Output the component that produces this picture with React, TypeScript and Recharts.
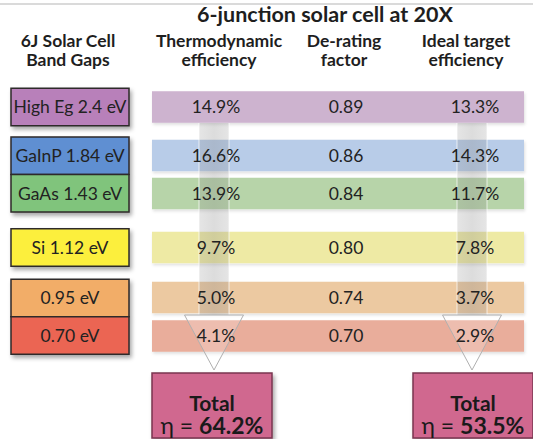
import { ScatterChart, Scatter, XAxis, YAxis, ReferenceLine } from "recharts";

const title = "6-junction solar cell at 20X";
const headers = [
  ["6J Solar Cell", "Band Gaps"],
  ["Thermodynamic", "efficiency"],
  ["De-rating", "factor"],
  ["Ideal target", "efficiency"],
];
const bandGaps = ["High Eg 2.4 eV", "GaInP 1.84 eV", "GaAs 1.43 eV", "Si 1.12 eV", "0.95 eV", "0.70 eV"];
const thermoEff = [14.9, 16.6, 13.9, 9.7, 5.0, 4.1];
const derating = [0.89, 0.86, 0.84, 0.8, 0.74, 0.7];
const idealEff = [13.3, 14.3, 11.7, 7.8, 3.7, 2.9];
const totals = [64.2, 53.5];

// layout (pixel units through an identity scale)
const W = 533;
const H = 439;
const rowY = [107, 155.5, 193.5, 247.5, 297.5, 336];
const colX = [70, 216, 346, 475];
const headX = [68, 219, 344, 466];
const arrowX = [214, 472];
const totalX = [212, 473];
const groups = [[0], [1, 2], [3], [4, 5]];
const BOX_W = 118;
const ROW_H = 37.5;
const BAND_L = 152;
const BAND_R = 524;
const BAND_H = 31.5;
const ARROW_TOP = 123;
const HEAD_TOP = 315;
const HEAD_TIP = 370;
const TOTAL_TOP = 373;
const TOTAL_W = 120;

const boxColors = ["#b880ba", "#5e8fd2", "#80c47c", "#fcef3e", "#f2ad67", "#eb6553"];
const bandColors = ["#cdb3cf", "#b8cce8", "#b7d4a9", "#eeeaa4", "#ecc9a1", "#e9ad9b"];
const FONT = "Lato, 'Open Sans', sans-serif";

const fmtPct = (v: number) => `${v.toFixed(1)}%`;

const bandData = rowY.map((y, i) => ({ x: (BAND_L + BAND_R) / 2, y, color: bandColors[i] }));
const boxData = groups.map((g) => ({
  x: colX[0],
  y: (rowY[g[0]] + rowY[g[g.length - 1]]) / 2,
  rows: g,
}));
const cellData = [
  ...bandGaps.map((t, i) => ({ x: colX[0], y: rowY[i], label: t })),
  ...thermoEff.map((v, i) => ({ x: colX[1], y: rowY[i], label: fmtPct(v) })),
  ...derating.map((v, i) => ({ x: colX[2], y: rowY[i], label: v.toFixed(2) })),
  ...idealEff.map((v, i) => ({ x: colX[3], y: rowY[i], label: fmtPct(v) })),
];
const headerData = headers.map((h, i) => ({ x: headX[i], y: 52, lines: h }));
const titleData = [{ x: 325, y: 15, label: title }];
const arrowData = arrowX.map((x) => ({ x, y: ARROW_TOP }));
const totalData = totals.map((v, i) => ({ x: totalX[i], y: TOTAL_TOP, value: v }));

const Band = (p: any) => {
  const { cx, cy, payload } = p;
  const w = BAND_R - BAND_L;
  return (
    <rect x={cx - w / 2} y={cy - BAND_H / 2} width={w} height={BAND_H} fill={payload.color} filter="url(#soft)" />
  );
};

const Box = (p: any) => {
  const { cx, cy, payload } = p;
  const n = payload.rows.length;
  const h = n * ROW_H;
  const top = cy - h / 2;
  return (
    <g filter="url(#shadow)">
      {payload.rows.map((r: number, k: number) => (
        <rect key={r} x={cx - BOX_W / 2} y={top + k * ROW_H} width={BOX_W} height={ROW_H} fill={boxColors[r]} stroke="#2e2a2a" strokeWidth={1.5} />
      ))}
    </g>
  );
};

const Arrow = (p: any) => {
  const { cx, cy } = p;
  const shaftW = 30;
  const headW = 59;
  const dy = HEAD_TOP - cy;
  return (
    <g>
      <rect x={cx - shaftW / 2} y={cy} width={shaftW} height={dy} fill="url(#shaft)" />
      <line x1={cx - shaftW / 2} x2={cx - shaftW / 2} y1={cy} y2={HEAD_TOP} stroke="#ffffff" strokeOpacity={0.7} />
      <line x1={cx + shaftW / 2} x2={cx + shaftW / 2} y1={cy} y2={HEAD_TOP} stroke="#ffffff" strokeOpacity={0.7} />
      <polygon
        points={`${cx - headW / 2},${HEAD_TOP} ${cx + headW / 2},${HEAD_TOP} ${cx},${HEAD_TIP}`}
        fill="#ffffff"
        fillOpacity={0.2}
        stroke="#b0b0b0"
        strokeWidth={1}
      />
    </g>
  );
};

const Cell = (p: any) => {
  const { cx, cy, payload } = p;
  return (
    <text x={cx} y={cy} dy={6} textAnchor="middle" fontFamily={FONT} fontSize={17.5} fill="#222">
      {payload.label}
    </text>
  );
};

const Header = (p: any) => {
  const { cx, cy, payload } = p;
  return (
    <text x={cx} textAnchor="middle" fontFamily={FONT} fontSize={17.5} fontWeight={700} fill="#1e1e1e">
      <tspan x={cx} y={cy - 5}>{payload.lines[0]}</tspan>
      <tspan x={cx} y={cy + 14}>{payload.lines[1]}</tspan>
    </text>
  );
};

const Title = (p: any) => {
  const { cx, cy, payload } = p;
  return (
    <text x={cx} y={cy + 7} textAnchor="middle" fontFamily={FONT} fontSize={21.5} fontWeight={700} fill="#1e1e1e">
      {payload.label}
    </text>
  );
};

const Total = (p: any) => {
  const { cx, cy, payload } = p;
  return (
    <g>
      <rect x={cx - TOTAL_W / 2} y={cy} width={TOTAL_W} height={H - cy - 1} fill="#d0678f" stroke="#7a3650" strokeWidth={1.5} filter="url(#shadow)" />
      <text textAnchor="middle" fontFamily={FONT} fill="#1a1a1a">
        <tspan x={cx} y={cy + 38} fontSize={21} fontWeight={700}>Total</tspan>
        <tspan x={cx} y={cy + 61} fontSize={23}>η = </tspan>
        <tspan fontSize={23} fontWeight={700}>{fmtPct(payload.value)}</tspan>
      </text>
    </g>
  );
};

export default function App() {
  return (
    <div style={{ position: "absolute", left: 0, top: 0, background: "#fff" }}>
      <ScatterChart width={W} height={H} margin={{ top: 0, right: 0, bottom: 0, left: 0 }}>
        <defs>
          <filter id="shadow" x="-10%" y="-10%" width="130%" height="140%">
            <feDropShadow dx={2} dy={3} stdDeviation={2} floodColor="#000" floodOpacity={0.35} />
          </filter>
          <filter id="soft" x="-5%" y="-20%" width="110%" height="150%">
            <feDropShadow dx={1} dy={2} stdDeviation={1.5} floodColor="#000" floodOpacity={0.12} />
          </filter>
          <linearGradient id="shaft" x1="0" y1="0" x2="1" y2="0">
            <stop offset="0%" stopColor="#8a8a8a" stopOpacity={0.22} />
            <stop offset="50%" stopColor="#8a8a8a" stopOpacity={0.3} />
            <stop offset="100%" stopColor="#8a8a8a" stopOpacity={0.22} />
          </linearGradient>
        </defs>
        <XAxis type="number" dataKey="x" domain={[0, W]} hide />
        <YAxis type="number" dataKey="y" domain={[0, H]} reversed hide />
        <ReferenceLine y={4} stroke="#b5b5b5" strokeWidth={1} />
        <Scatter data={bandData} shape={Band} isAnimationActive={false} />
        <Scatter data={boxData} shape={Box} isAnimationActive={false} />
        <Scatter data={arrowData} shape={Arrow} isAnimationActive={false} />
        <Scatter data={cellData} shape={Cell} isAnimationActive={false} />
        <Scatter data={headerData} shape={Header} isAnimationActive={false} />
        <Scatter data={titleData} shape={Title} isAnimationActive={false} />
        <Scatter data={totalData} shape={Total} isAnimationActive={false} />
      </ScatterChart>
    </div>
  );
}
